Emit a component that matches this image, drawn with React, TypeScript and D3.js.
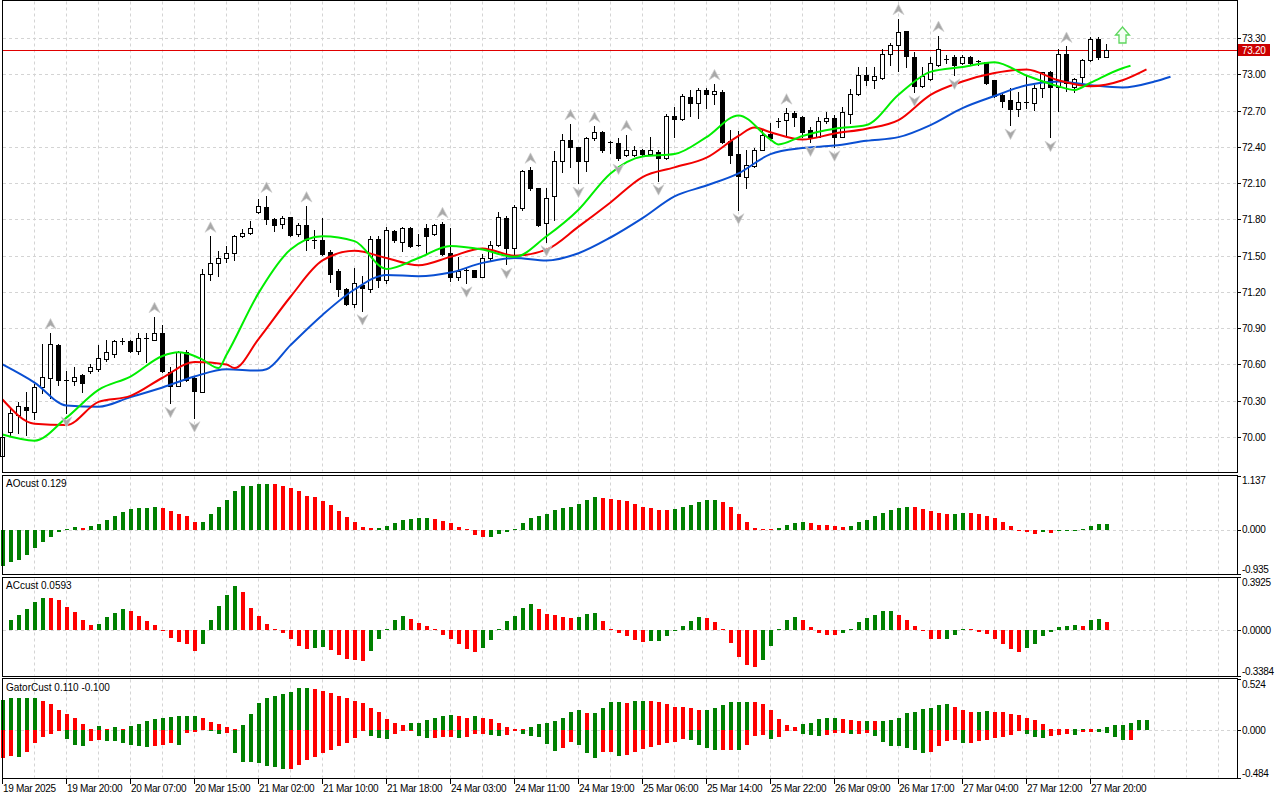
import React from 'react';
import * as d3 from 'd3';

// ---- price bars (one per slot, 8px apart) ----
const opens = [
  69.84, 70.04, 70.18, 70.25, 70.21, 70.41, 70.49, 70.76, 70.47, 70.46, 70.51, 70.55, 70.56, 70.645, 70.69, 70.79, 70.79, 70.71, 70.82, 70.80,
  70.86, 70.54, 70.42, 70.70, 70.49, 70.375, 71.345, 71.44, 71.48, 71.52, 71.66, 71.685, 71.86, 71.90, 71.80, 71.76, 71.82, 71.68, 71.75, 71.63,
  71.63, 71.53, 71.37, 71.22, 71.10, 71.26, 71.22, 71.64, 71.30, 71.70, 71.615, 71.73, 71.59, 71.73, 71.675, 71.76, 71.52, 71.32, 71.38, 71.38,
  71.325, 71.48, 71.59, 71.815, 71.565, 71.89, 72.21, 72.06, 71.77, 71.99, 72.285, 72.455, 72.40, 72.285, 72.47, 72.525, 72.44, 72.435, 72.33, 72.33,
  72.37, 72.34, 72.355, 72.31, 72.655, 72.63, 72.81, 72.765, 72.87, 72.84, 72.85, 72.45, 72.34, 72.15, 72.24, 72.375, 72.51, 72.61, 72.625, 72.68,
  72.65, 72.54, 72.485, 72.61, 72.64, 72.485, 72.675, 72.835, 72.99, 72.95, 72.97, 73.165, 73.24, 73.355, 73.14, 72.90, 72.96, 73.075, 73.125, 73.14,
  73.09, 73.145, 73.11, 73.10, 72.95, 72.83, 72.79, 72.71, 72.77, 72.765, 72.885, 73.02, 72.895, 73.17, 72.895, 72.975, 73.12, 73.295, 73.145,
];
const highs = [
  70.02, 70.24, 70.29, 70.37, 70.44, 70.77, 70.86, 70.77, 70.55, 70.58, 70.52, 70.60, 70.76, 70.80, 70.80, 70.82, 70.80, 70.86, 70.86, 70.995,
  70.93, 70.58, 70.71, 70.72, 70.50, 71.39, 71.66, 71.54, 71.58, 71.67, 71.72, 71.79, 71.97, 71.99, 71.81, 71.83, 71.82, 71.77, 71.91, 71.71,
  71.81, 71.55, 71.39, 71.23, 71.395, 71.33, 71.66, 71.66, 71.74, 71.71, 71.74, 71.74, 71.675, 71.76, 71.76, 71.78, 71.725, 71.49, 71.41, 71.38,
  71.51, 71.62, 71.86, 71.83, 71.92, 72.21, 72.23, 72.06, 72.06, 72.365, 72.51, 72.59, 72.40, 72.48, 72.57, 72.53, 72.445, 72.47, 72.50, 72.405,
  72.38, 72.48, 72.37, 72.67, 72.73, 72.835, 72.87, 72.885, 72.885, 72.92, 72.87, 72.54, 72.53, 72.37, 72.39, 72.55, 72.60, 72.64, 72.72, 72.70,
  72.655, 72.56, 72.65, 72.69, 72.665, 72.73, 72.88, 73.06, 73.06, 73.06, 73.21, 73.26, 73.46, 73.355, 73.185, 73.06, 73.14, 73.32, 73.16, 73.16,
  73.16, 73.15, 73.12, 73.105, 72.955, 72.835, 72.89, 72.85, 72.985, 72.91, 73.02, 73.03, 73.21, 73.23, 72.97, 73.13, 73.31, 73.305, 73.25,
];
const lows = [
  69.80, 70.02, 70.03, 70.02, 70.15, 70.36, 70.32, 70.43, 70.20, 70.43, 70.37, 70.53, 70.55, 70.63, 70.66, 70.77, 70.70, 70.69, 70.62, 70.80,
  70.54, 70.28, 70.42, 70.46, 70.16, 70.37, 71.30, 71.33, 71.45, 71.46, 71.65, 71.68, 71.85, 71.76, 71.70, 71.73, 71.66, 71.66, 71.55, 71.56,
  71.505, 71.28, 71.17, 71.09, 71.075, 71.045, 71.20, 71.24, 71.27, 71.615, 71.54, 71.57, 71.58, 71.52, 71.67, 71.505, 71.29, 71.30, 71.275, 71.32,
  71.32, 71.46, 71.58, 71.43, 71.48, 71.88, 72.04, 71.745, 71.615, 71.795, 72.19, 72.235, 72.10, 72.20, 72.455, 72.36, 72.345, 72.29, 72.32, 72.32,
  72.32, 72.33, 72.12, 72.30, 72.48, 72.625, 72.655, 72.64, 72.725, 72.75, 72.435, 72.27, 71.88, 72.06, 72.235, 72.37, 72.46, 72.565, 72.49, 72.57,
  72.48, 72.44, 72.48, 72.60, 72.40, 72.48, 72.595, 72.825, 72.91, 72.89, 72.965, 73.075, 73.03, 73.06, 72.855, 72.895, 72.955, 73.07, 73.09, 72.995,
  73.085, 73.075, 73.08, 72.92, 72.815, 72.73, 72.58, 72.655, 72.725, 72.705, 72.81, 72.48, 72.70, 72.865, 72.85, 72.905, 73.11, 73.13, 73.14,
];
const closes = [
  70.00, 70.20, 70.26, 70.22, 70.41, 70.50, 70.77, 70.47, 70.46, 70.50, 70.45, 70.58, 70.65, 70.70, 70.79, 70.79, 70.71, 70.82, 70.81, 70.86,
  70.55, 70.42, 70.70, 70.47, 70.38, 71.345, 71.44, 71.48, 71.52, 71.66, 71.685, 71.725, 71.91, 71.80, 71.75, 71.81, 71.67, 71.75, 71.63, 71.62,
  71.51, 71.35, 71.22, 71.10, 71.27, 71.23, 71.64, 71.30, 71.71, 71.63, 71.725, 71.58, 71.58, 71.665, 71.75, 71.51, 71.325, 71.37, 71.37, 71.325,
  71.48, 71.59, 71.82, 71.565, 71.905, 72.20, 72.06, 71.75, 71.975, 72.28, 72.455, 72.395, 72.28, 72.47, 72.52, 72.375, 72.43, 72.31, 72.37, 72.37,
  72.34, 72.37, 72.31, 72.655, 72.63, 72.82, 72.765, 72.87, 72.84, 72.86, 72.44, 72.33, 72.16, 72.25, 72.375, 72.495, 72.475, 72.61, 72.68, 72.65,
  72.525, 72.485, 72.61, 72.64, 72.485, 72.69, 72.835, 72.99, 72.95, 72.985, 73.17, 73.24, 73.35, 73.15, 72.90, 72.985, 73.09, 73.21, 73.125, 73.075,
  73.14, 73.09, 73.10, 72.93, 72.82, 72.775, 72.71, 72.77, 72.765, 72.885, 73.015, 72.895, 73.165, 72.93, 72.965, 73.12, 73.29, 73.145, 73.20,
];

const fractalUp = [6, 19, 26, 33, 38, 55, 66, 71, 74, 78, 89, 98, 112, 117, 133];
const fractalDown = [8, 21, 24, 45, 58, 63, 68, 72, 77, 82, 92, 101, 104, 114, 119, 126, 131];

// ---- alligator lines, read at bar slots (already shifted forward) ----
const jawSlots = [0, 4, 8, 12, 16, 20, 24, 28, 32, 33, 36, 40, 44, 48, 52, 56, 60, 64, 68, 72, 76, 80, 84, 88, 92, 96, 100, 104, 108, 112, 116, 120, 124, 128, 132, 136, 140, 144, 146];
const jawValues = [70.60, 70.45, 70.26, 70.25, 70.33, 70.41, 70.50, 70.56, 70.55, 70.56, 70.76, 71.01, 71.22, 71.34, 71.33, 71.36, 71.44, 71.48, 71.46, 71.52, 71.65, 71.81, 71.99, 72.08, 72.18, 72.34, 72.39, 72.41, 72.45, 72.48, 72.58, 72.72, 72.82, 72.91, 72.94, 72.91, 72.89, 72.94, 72.98];

const teethSlots = [0, 4, 8, 12, 16, 20, 24, 28, 29, 32, 36, 40, 44, 48, 52, 56, 60, 64, 68, 72, 76, 80, 84, 88, 92, 94, 96, 100, 104, 108, 112, 116, 120, 124, 128, 132, 136, 140, 143];
const teethValues = [70.31, 70.11, 70.10, 70.29, 70.34, 70.49, 70.62, 70.60, 70.57, 70.81, 71.16, 71.46, 71.54, 71.48, 71.42, 71.49, 71.56, 71.50, 71.55, 71.74, 71.94, 72.15, 72.23, 72.31, 72.49, 72.56, 72.52, 72.46, 72.51, 72.55, 72.62, 72.83, 72.94, 73.01, 73.04, 72.95, 72.90, 72.95, 73.04];

const lipsSlots = [0, 4, 8, 12, 16, 20, 22, 24, 25, 27, 28, 32, 36, 40, 44, 48, 52, 56, 60, 64, 68, 72, 76, 80, 84, 88, 92, 96, 97, 100, 104, 108, 112, 116, 120, 124, 128, 132, 134, 136, 140, 141];
const lipsValues = [70.02, 69.97, 70.16, 70.39, 70.50, 70.67, 70.70, 70.67, 70.64, 70.57, 70.68, 71.19, 71.55, 71.66, 71.62, 71.39, 71.48, 71.58, 71.55, 71.49, 71.66, 71.88, 72.18, 72.32, 72.34, 72.48, 72.66, 72.46, 72.42, 72.49, 72.55, 72.58, 72.83, 73.02, 73.06, 73.10, 72.99, 72.90, 72.87, 72.93, 73.05, 73.07];

// ---- oscillators ----
const aoValues = [
  -0.755, -0.67, -0.613, -0.52, -0.38, -0.247, -0.141, -0.035, 0.02, 0.06, 0.055, 0.09, 0.127, 0.21, 0.30, 0.38, 0.45, 0.465, 0.468, 0.486,
  0.465, 0.40, 0.338, 0.296, 0.165, 0.172, 0.338, 0.493, 0.64, 0.83, 0.93, 0.932, 0.972, 0.975, 0.97, 0.923, 0.88, 0.818, 0.726, 0.69,
  0.62, 0.528, 0.409, 0.282, 0.176, 0.07, 0.05, 0.052, 0.092, 0.148, 0.21, 0.232, 0.25, 0.255, 0.232, 0.19, 0.148, 0.07, 0.007, -0.106,
  -0.141, -0.14, -0.085, -0.035, 0.035, 0.148, 0.254, 0.296, 0.338, 0.423, 0.472, 0.494, 0.55, 0.64, 0.698, 0.67, 0.662, 0.634, 0.613, 0.55,
  0.486, 0.465, 0.43, 0.428, 0.45, 0.494, 0.528, 0.592, 0.634, 0.636, 0.592, 0.486, 0.338, 0.169, 0.049, 0.007, 0.003, 0.042, 0.106, 0.148,
  0.169, 0.148, 0.106, 0.105, 0.085, 0.07, 0.1, 0.169, 0.21, 0.296, 0.36, 0.423, 0.472, 0.486, 0.484, 0.45, 0.40, 0.36, 0.338, 0.342,
  0.36, 0.358, 0.338, 0.296, 0.254, 0.169, 0.092, -0.005, -0.028, -0.07, -0.045, -0.05, -0.02, -0.01, -0.005, 0.028, 0.092, 0.127, 0.129,
];
const acValues = [
  0, 0.072, 0.114, 0.154, 0.205, 0.24, 0.238, 0.225, 0.171, 0.137, 0.072, 0.041, 0.043, 0.097, 0.129, 0.159, 0.144, 0.107, 0.065, 0.041,
  -0.009, -0.06, -0.09, -0.1, -0.156, -0.1, 0.078, 0.181, 0.262, 0.326, 0.282, 0.166, 0.107, 0.048, 0.011, -0.021, -0.063, -0.114, -0.137, -0.135,
  -0.127, -0.144, -0.181, -0.216, -0.223, -0.225, -0.156, -0.068, 0.002, 0.078, 0.107, 0.085, 0.055, 0.033, 0.003, -0.033, -0.063, -0.1, -0.137, -0.159,
  -0.129, -0.07, 0.011, 0.07, 0.107, 0.166, 0.196, 0.159, 0.122, 0.114, 0.1, 0.092, 0.094, 0.122, 0.124, 0.07, 0.003, -0.022, -0.044, -0.074,
  -0.089, -0.081, -0.08, -0.044, -0.007, 0.033, 0.066, 0.1, 0.092, 0.063, 0.002, -0.097, -0.2, -0.26, -0.275, -0.223, -0.12, 0.003, 0.072, 0.1,
  0.072, 0.022, -0.022, -0.033, -0.034, -0.022, 0.011, 0.058, 0.092, 0.114, 0.139, 0.14, 0.114, 0.078, 0.033, -0.007, -0.063, -0.068, -0.066, -0.033,
  0.004, 0.002, -0.01, -0.03, -0.068, -0.1, -0.137, -0.161, -0.129, -0.1, -0.044, -0.012, 0.022, 0.033, 0.041, 0.033, 0.078, 0.079, 0.0593,
];
const gatorUpper = [
  0.309, 0.326, 0.327, 0.328, 0.329, 0.302, 0.268, 0.204, 0.163, 0.122, 0.061, 0.005, 0.041, 0.02, 0.031, 0.02, 0.041, 0.061, 0.095, 0.112,
  0.132, 0.133, 0.143, 0.144, 0.146, 0.129, 0.089, 0.064, 0.037, 0.007, 0.055, 0.166, 0.275, 0.335, 0.348, 0.372, 0.396, 0.428, 0.437, 0.427,
  0.404, 0.377, 0.355, 0.333, 0.302, 0.284, 0.233, 0.185, 0.113, 0.071, 0.051, 0.071, 0.081, 0.102, 0.122, 0.143, 0.153, 0.143, 0.132, 0.143,
  0.132, 0.112, 0.071, 0.031, 0.01, 0.008, 0.031, 0.061, 0.081, 0.092, 0.132, 0.183, 0.204, 0.173, 0.174, 0.224, 0.285, 0.286, 0.284, 0.295,
  0.305, 0.304, 0.285, 0.265, 0.244, 0.234, 0.224, 0.204, 0.205, 0.224, 0.255, 0.285, 0.286, 0.287, 0.285, 0.265, 0.204, 0.112, 0.051, 0.031,
  0.061, 0.081, 0.112, 0.122, 0.123, 0.112, 0.102, 0.092, 0.093, 0.092, 0.093, 0.102, 0.132, 0.173, 0.193, 0.214, 0.224, 0.255, 0.265, 0.234,
  0.204, 0.183, 0.193, 0.194, 0.193, 0.183, 0.163, 0.153, 0.132, 0.102, 0.061, 0.02, 0.002, 0.001, 0.003, 0.01, 0.009, 0.01, 0.031, 0.051,
  0.052, 0.071, 0.102, 0.11,
];
const gatorLower = [
  -0.282, -0.265, -0.266, -0.221, -0.129, -0.071, -0.041, -0.003, -0.088, -0.143, -0.163, -0.109, -0.102, -0.103, -0.104, -0.129, -0.153, -0.163, -0.173, -0.163,
  -0.143, -0.129, -0.149, -0.03, -0.02, 0, -0.003, -0.037, -0.025, -0.227, -0.319, -0.326, -0.336, -0.365, -0.375, -0.394, -0.393, -0.352, -0.302, -0.275,
  -0.227, -0.2, -0.16, -0.127, -0.08, -0.003, -0.06, -0.081, -0.088, -0.041, -0.003, -0.002, -0.061, -0.078, -0.077, -0.068, -0.067, -0.078, -0.068, -0.037,
  -0.036, -0.048, -0.061, -0.048, -0.002, -0.037, -0.061, -0.062, -0.139, -0.21, -0.18, -0.119, -0.149, -0.231, -0.282, -0.221, -0.22, -0.261, -0.251, -0.221,
  -0.19, -0.17, -0.153, -0.129, -0.119, -0.088, -0.098, -0.149, -0.18, -0.2, -0.199, -0.198, -0.2, -0.149, -0.061, -0.048, -0.088, -0.068, -0.01, -0.005,
  -0.041, -0.051, -0.061, -0.051, -0.027, -0.026, -0.037, -0.036, -0.027, -0.061, -0.119, -0.16, -0.161, -0.18, -0.2, -0.231, -0.221, -0.16, -0.109, -0.098,
  -0.129, -0.128, -0.109, -0.098, -0.081, -0.071, -0.048, -0.007, -0.037, -0.071, -0.078, -0.061, -0.048, -0.037, -0.048, -0.02, -0.014, -0.02, -0.027, -0.071,
  -0.101, -0.1,
];

const priceTicks = [70.0, 70.3, 70.6, 70.9, 71.2, 71.5, 71.8, 72.1, 72.4, 72.7, 73.0, 73.3];
const timeLabels = [
  '19 Mar 2025', '19 Mar 20:00', '20 Mar 07:00', '20 Mar 15:00', '21 Mar 02:00', '21 Mar 10:00',
  '21 Mar 18:00', '24 Mar 03:00', '24 Mar 11:00', '24 Mar 19:00', '25 Mar 06:00', '25 Mar 14:00',
  '25 Mar 22:00', '26 Mar 09:00', '26 Mar 17:00', '27 Mar 04:00', '27 Mar 12:00', '27 Mar 20:00',
];
const currentPrice = 73.2;
const signalBar = 140;

const FONT = '"Liberation Sans", Arial, sans-serif';
const FS = 10;
const GREEN = '#008000';
const RED = '#ff0000';
const GRID = '#d4d4d4';
const AXIS_X = 1237;

const panels = {
  main: { top: 0.5, bottom: 472.5 },
  ao: { top: 475.5, bottom: 574.5 },
  ac: { top: 577.5, bottom: 676.5 },
  gator: { top: 678.5, bottom: 778.5 },
};

const bx = d3.scaleLinear().domain([0, 1]).range([2.5, 10.5]);
const yMain = d3.scaleLinear().domain([70, 73.3]).range([437, 38]);
const yAO = d3.scaleLinear().domain([-0.935, 1.137]).range([575, 476]);
const yAC = d3.scaleLinear().domain([-0.3384, 0.3925]).range([676, 577]);
const yGator = d3.scaleLinear().domain([-0.484, 0.524]).range([778, 679]);

const histBar = (key: string, i: number, v: number, y: d3.ScaleLinear<number, number>, color: string) => {
  if (v === 0) return null;
  const y0 = Math.round(y(0));
  let y1 = Math.round(y(v));
  if (y1 === y0) y1 = v > 0 ? y0 - 1 : y0 + 1;
  return (
    <rect key={key} x={bx(i) - 1.5} y={Math.min(y0, y1)} width={4} height={Math.abs(y1 - y0)} fill={color} />
  );
};

const Panel = ({ p }: { p: { top: number; bottom: number } }) => (
  <rect x={2.5} y={p.top} width={AXIS_X - 2} height={p.bottom - p.top} fill="none" stroke="#000" />
);

const VGrid = ({ p }: { p: { top: number; bottom: number } }) => {
  const xs = d3.range(4, 154, 4).map((k) => bx(k)).filter((x) => x < AXIS_X - 2);
  return (
    <g stroke={GRID} strokeDasharray="3,3">
      {xs.map((x, i) => (
        <line key={i} x1={x} x2={x} y1={p.top + 1} y2={p.bottom - 1} />
      ))}
    </g>
  );
};

const ZeroLine = ({ y }: { y: number }) => (
  <line x1={3} x2={AXIS_X - 1} y1={Math.round(y) + 0.5} y2={Math.round(y) + 0.5} stroke={GRID} strokeDasharray="3,3" />
);

const AxisLabel = ({ y, text, base }: { y: number; text: string; base: number }) => (
  <g>
    <line x1={AXIS_X} x2={AXIS_X + 4} y1={Math.round(y) + 0.5} y2={Math.round(y) + 0.5} stroke="#000" />
    <text x={1242} y={base} fontSize={FS} fontFamily={FONT} fill="#000" letterSpacing={-0.3}>{text}</text>
  </g>
);

const upArrow = 'M0,-5.5 L5.5,5 L0,1.5 L-5.5,5 Z';
const downArrow = 'M0,5.5 L5.5,-5 L0,-1.5 L-5.5,-5 Z';

export default function App() {
  const line = (yS: d3.ScaleLinear<number, number>) =>
    d3.line<[number, number]>().x((d) => bx(d[0])).y((d) => yS(d[1])).curve(d3.curveMonotoneX);
  const jaw = line(yMain)(jawSlots.map((k, i) => [k, jawValues[i]]));
  const teeth = line(yMain)(teethSlots.map((k, i) => [k, teethValues[i]]));
  const lips = line(yMain)(lipsSlots.map((k, i) => [k, lipsValues[i]]));

  const priceY = Math.round(yMain(currentPrice)) + 0.5;
  const sx = bx(signalBar);

  return (
    <div style={{ position: 'absolute', left: 0, top: 0 }}>
      <svg width={1280} height={800} style={{ display: 'block', background: '#fff' }}>
        <rect width={1280} height={800} fill="#fff" />

        {/* main grid */}
        <VGrid p={panels.main} />
        <g stroke={GRID} strokeDasharray="3,3">
          {priceTicks.map((t) => (
            <line key={t} x1={3} x2={AXIS_X - 1} y1={Math.round(yMain(t)) + 0.5} y2={Math.round(yMain(t)) + 0.5} />
          ))}
        </g>

        {/* current price line */}
        <line x1={3} x2={AXIS_X} y1={priceY} y2={priceY} stroke="#e00000" />

        {/* candles */}
        <g shapeRendering="crispEdges">
          {opens.map((o, i) => {
            const c = closes[i];
            const xc = bx(i);
            const yh = Math.round(yMain(highs[i]));
            const yl = Math.round(yMain(lows[i]));
            const yTop = Math.round(yMain(Math.max(o, c)));
            const yBot = Math.round(yMain(Math.min(o, c)));
            const bull = c >= o;
            return (
              <g key={i}>
                <line x1={xc} x2={xc} y1={yh} y2={yl + 1} stroke="#000" />
                {yBot - yTop < 2 ? (
                  <line x1={xc - 2.5} x2={xc + 2.5} y1={yTop + 0.5} y2={yTop + 0.5} stroke="#000" />
                ) : (
                  <rect x={xc - 2} y={yTop + 0.5} width={4} height={yBot - yTop} fill={bull ? '#fff' : '#000'} stroke="#000" />
                )}
              </g>
            );
          })}
        </g>

        {/* alligator */}
        <path d={jaw || ''} fill="none" stroke="#0a4fd2" strokeWidth={2} />
        <path d={teeth || ''} fill="none" stroke="#f20000" strokeWidth={2} />
        <path d={lips || ''} fill="none" stroke="#00ee00" strokeWidth={2} />

        {/* fractals */}
        <g fill="#a8a8a8" stroke="#d0d0d0" strokeWidth={0.7}>
          {fractalUp.map((i) => (
            <path key={'u' + i} d={upArrow} transform={`translate(${bx(i)},${yMain(highs[i]) - 9})`} />
          ))}
          {fractalDown.map((i) => (
            <path key={'d' + i} d={downArrow} transform={`translate(${bx(i)},${yMain(lows[i]) + 9})`} />
          ))}
        </g>

        {/* signal arrow */}
        <path
          d={`M${sx},27 L${sx + 7},35 L${sx + 3.5},35 L${sx + 3.5},43 L${sx - 3.5},43 L${sx - 3.5},35 L${sx - 7},35 Z`}
          fill="#f4fff4"
          stroke="#5cd65c"
          strokeWidth={1.3}
        />

        {/* AO */}
        <VGrid p={panels.ao} />
        <ZeroLine y={yAO(0)} />
        <g shapeRendering="crispEdges">
          {aoValues.map((v, i) => histBar('ao' + i, i, v, yAO, i === 0 || v >= aoValues[i - 1] ? GREEN : RED))}
        </g>
        <text x={6} y={487} fontSize={FS} fontFamily={FONT}>{`AOcust ${aoValues[aoValues.length - 1].toFixed(3)}`}</text>

        {/* AC */}
        <VGrid p={panels.ac} />
        <ZeroLine y={yAC(0)} />
        <g shapeRendering="crispEdges">
          {acValues.map((v, i) => histBar('ac' + i, i, v, yAC, i === 0 || v >= acValues[i - 1] ? GREEN : RED))}
        </g>
        <text x={6} y={589} fontSize={FS} fontFamily={FONT}>{`ACcust ${acValues[acValues.length - 1].toFixed(4)}`}</text>

        {/* Gator */}
        <VGrid p={panels.gator} />
        <ZeroLine y={yGator(0)} />
        <g shapeRendering="crispEdges">
          {gatorUpper.map((v, i) => histBar('gu' + i, i, v, yGator, i === 0 || v >= gatorUpper[i - 1] ? GREEN : RED))}
          {gatorLower.map((v, i) =>
            histBar('gl' + i, i, v, yGator, i > 0 && Math.abs(v) > Math.abs(gatorLower[i - 1]) ? GREEN : RED),
          )}
        </g>
        <text x={6} y={691} fontSize={FS} fontFamily={FONT}>
          {`GatorCust ${gatorUpper[gatorUpper.length - 1].toFixed(3)} ${gatorLower[gatorLower.length - 1].toFixed(3)}`}
        </text>

        {/* panel frames */}
        <g shapeRendering="crispEdges">
          <Panel p={panels.main} />
          <Panel p={panels.ao} />
          <Panel p={panels.ac} />
          <Panel p={panels.gator} />
        </g>

        {/* right price axis */}
        {priceTicks.map((t) => (
          <AxisLabel key={t} y={yMain(t)} text={t.toFixed(2)} base={Math.round(yMain(t)) + 4} />
        ))}
        <rect x={1238} y={44} width={32} height={12} fill="#cc0000" />
        <text x={1242} y={54} fontSize={FS} fontFamily={FONT} fill="#fff" letterSpacing={-0.3}>{currentPrice.toFixed(2)}</text>

        <AxisLabel y={476} text="1.137" base={484} />
        <AxisLabel y={yAO(0)} text="0.000" base={533} />
        <AxisLabel y={574} text="-0.935" base={573} />
        <AxisLabel y={577} text="0.3925" base={586} />
        <AxisLabel y={yAC(0)} text="0.0000" base={634} />
        <AxisLabel y={676} text="-0.3384" base={675} />
        <AxisLabel y={679} text="0.524" base={688} />
        <AxisLabel y={yGator(0)} text="0.000" base={734} />
        <AxisLabel y={778} text="-0.484" base={777} />

        {/* time axis */}
        {timeLabels.map((t, j) => {
          const x = bx(j * 8);
          return (
            <g key={t}>
              <line x1={x} x2={x} y1={778} y2={784} stroke="#000" />
              <text x={x + 0.5} y={792} fontSize={FS} fontFamily={FONT} letterSpacing={-0.3}>{t}</text>
            </g>
          );
        })}
      </svg>
    </div>
  );
}
